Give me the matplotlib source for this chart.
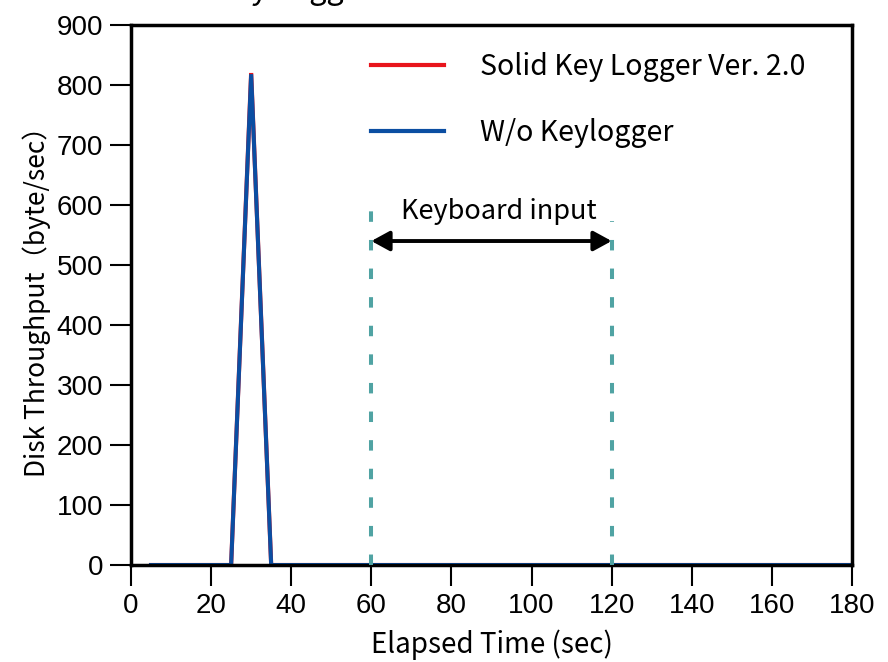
import matplotlib.pyplot as plt

# data
temps = [5, 25, 30, 35, 180]
solid_key_logger = [0, 0, 820, 0, 0]
sans_keylogger = [0, 0, 818, 0, 0]

x_ticks = [0, 20, 40, 60, 80, 100, 120, 140, 160, 180]
y_ticks = [0, 100, 200, 300, 400, 500, 600, 700, 800, 900]

debut_saisie = 60
fin_saisie = 120

jp = ['Noto Sans CJK JP', 'DejaVu Sans']
plt.rcParams['font.family'] = ['Liberation Sans', 'DejaVu Sans']

fig = plt.figure(figsize=(8.88, 6.62), dpi=100)
ax = fig.add_axes([0.1475, 0.1465, 0.812, 0.8157])

# titre coupé en haut de l'image
fig.text(0.152, 1.002, "Solid Key Logger", fontsize=22, family=jp,
         ha='left', va='baseline')

ax.plot(temps, solid_key_logger, color='#e8141c', lw=3.0,
        label='Solid Key Logger Ver. 2.0', solid_joinstyle='miter')
ax.plot(temps, sans_keylogger, color='#0b4ea2', lw=2.9,
        label='W/o Keylogger', solid_joinstyle='miter')

ax.plot([debut_saisie, debut_saisie], [0, 590], color='#50a3a3', lw=2.9,
        dashes=(2.6, 4.5), dash_capstyle='butt', zorder=3)
ax.plot([fin_saisie, fin_saisie], [0, 573], color='#50a3a3', lw=2.9,
        dashes=(2.6, 4.5), dash_capstyle='butt', zorder=3)

ax.annotate('', xy=(debut_saisie, 540), xytext=(fin_saisie, 540),
            arrowprops=dict(arrowstyle='<|-|>,head_length=1.1,head_width=0.6',
                            color='black', lw=2.8, shrinkA=0, shrinkB=0))
ax.text(91.8, 590, 'Keyboard input', fontsize=19.5, family=jp,
        ha='center', va='center')

ax.set_xlim(0, 180)
ax.set_ylim(0, 900)
ax.set_xticks(x_ticks)
ax.set_yticks(y_ticks)
ax.tick_params(direction='out', length=15, width=1.5, labelsize=20)
ax.tick_params(axis='x', pad=5)
ax.tick_params(axis='y', pad=5)

for s in ax.spines.values():
    s.set_linewidth(2.5)

ax.set_xlabel('Elapsed Time (sec)', fontsize=20, family=jp, labelpad=8)
ax.set_ylabel('Disk Throughput（byte/sec）', fontsize=19, family=jp, labelpad=4)

leg = ax.legend(loc='upper right', bbox_to_anchor=(0.935, 0.95), frameon=False,
                borderpad=0, borderaxespad=0,
                prop={'family': jp, 'size': 20.5}, handlelength=2.56,
                handletextpad=1.26, labelspacing=1.26)
for l in leg.get_lines():
    l.set_linewidth(3)

fig.savefig('out.png', dpi=100)
